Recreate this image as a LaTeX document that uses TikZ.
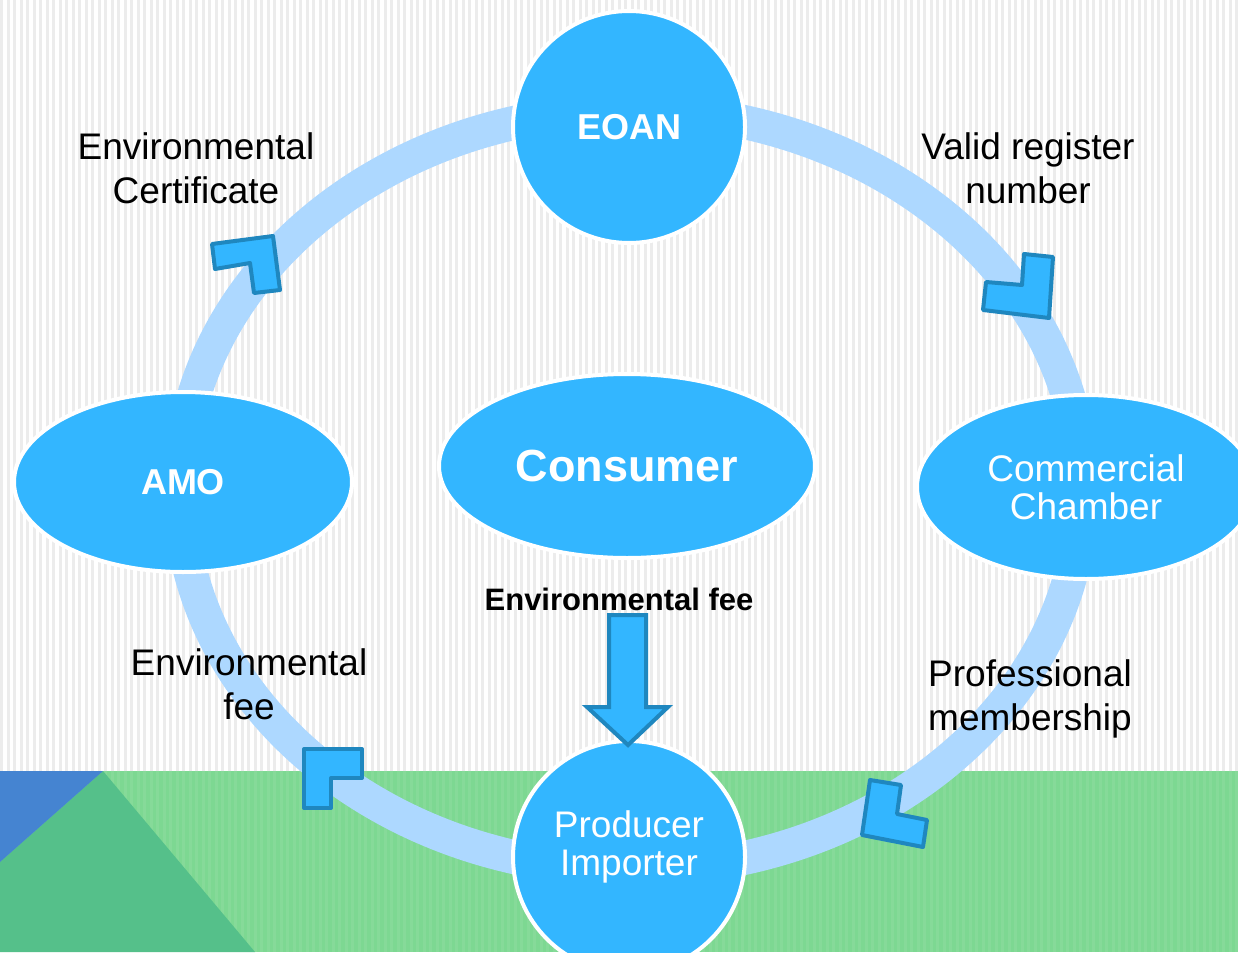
\documentclass[tikz,border=0pt]{standalone}
\usepackage{fontspec}
\setmainfont{Liberation Sans}
\usetikzlibrary{shapes.geometric}
\definecolor{nodeblue}{RGB}{51,182,255}
\definecolor{edgeblue}{RGB}{31,135,191}
\definecolor{ringblue}{RGB}{173,216,255}
\definecolor{stripegray}{RGB}{236,236,236}
\definecolor{lightgreen}{RGB}{125,216,146}
\definecolor{darkgreen}{RGB}{85,192,138}
\definecolor{cornerblue}{RGB}{69,132,209}
\tikzset{
  bubble/.style={fill=nodeblue, draw=white, line width=4pt, text=white, inner sep=0pt, align=center},
  lbl/.style={align=center, text=black, font=\fontsize{37}{44}\selectfont},
  nodetext/.style={align=center, text=white, font=\fontsize{37}{38}\selectfont},
  cornerarrow/.style={fill=nodeblue, draw=edgeblue, line width=4pt, line join=round},
  ring/.style={draw=ringblue, line width=34pt},
}
\begin{document}
\begin{tikzpicture}[x=1pt,y=-1pt]
\useasboundingbox (0,0) rectangle (1238,952);
% background stripes
\fill[white] (0,0) rectangle (1238,952);
\foreach \i in {0,...,190} {\fill[stripegray] (\i*6.5,0) rectangle ++(3,952);}
% green band
\fill[lightgreen] (0,771) rectangle (1238,952);
\begin{scope}
\clip (0,771) rectangle (1238,952);
\foreach \i in {0,...,190} {\fill[white,opacity=0.07] (\i*6.5,771) rectangle ++(3,181);}
\end{scope}
\fill[darkgreen] (103,771) -- (255,952) -- (0,952) -- (0,862) -- cycle;
\fill[cornerblue] (0,771) -- (103,771) -- (0,862) -- cycle;
% ring
\draw[ring] (631,490) ellipse [x radius=451pt, y radius=380pt];
% labels
\node[lbl] (l1) at (196,168) {Environmental\\Certificate};
\node[lbl] (l2) at (1028,168) {Valid register\\number};
\node[lbl] (l3) at (249,684) {Environmental\\fee};
\node[lbl] (l4) at (1030,699) {Professional\\membership};
\node[font=\fontsize{31}{36}\selectfont\bfseries] (l5) at (619,599) {Environmental fee};
% nodes
\node[bubble, circle, minimum size=232pt, font=\fontsize{36}{40}\selectfont\bfseries] (eoan) at (629,127) {EOAN};
\node[bubble, ellipse, minimum width=338pt, minimum height=180pt, font=\fontsize{36}{40}\selectfont\bfseries] (amo) at (183,482) {AMO};
\node[bubble, ellipse, minimum width=376pt, minimum height=184pt, font=\fontsize{45}{50}\selectfont\bfseries] (cons) at (627,466) {Consumer};
\node[bubble, ellipse, minimum width=338pt, minimum height=184pt] (comm) at (1086,487) {};
\node[nodetext] (commt) at (comm.center) {Commercial\\Chamber};
\node[bubble, circle, minimum size=232pt] (prod) at (629,857) {};
\node[nodetext] (prodt) at ([yshift=10pt]prod.center) {Producer\\Importer};
% corner arrows
\draw[cornerarrow] (212,244) -- (273,236) -- (280,290) -- (254,293) -- (250,263) -- (215,269) -- cycle;
\draw[cornerarrow] (1024,254) -- (1053,257) -- (1049,318) -- (983,310) -- (986,282) -- (1022,285) -- cycle;
\draw[cornerarrow] (304,749) -- (362,749) -- (362,778) -- (331,778) -- (331,808) -- (304,808) -- cycle;
\draw[cornerarrow] (870,780) -- (901,785) -- (897,814) -- (927,820) -- (923,847) -- (862,835) -- cycle;
% down arrow
\draw[cornerarrow, line join=miter] (609,615) -- (646,615) -- (646,707) -- (668,707) -- (628,745) -- (587,707) -- (609,707) -- cycle;
\end{tikzpicture}
\end{document}
